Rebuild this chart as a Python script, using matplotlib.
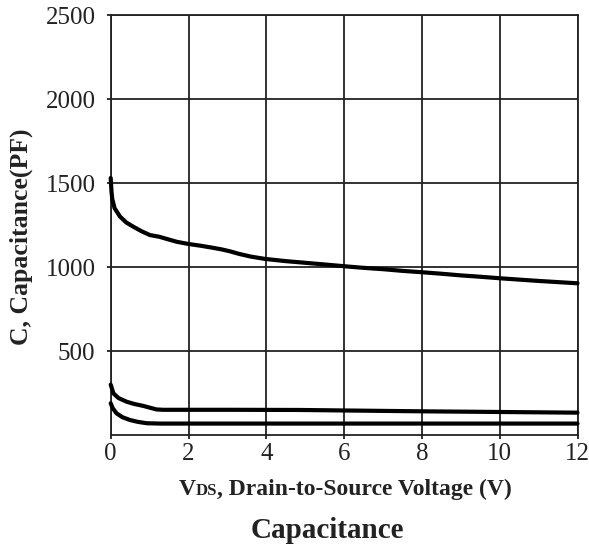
import matplotlib
matplotlib.use("Agg")
import matplotlib.pyplot as plt

# Data
ciss_v = [0.0, 0.01, 0.02, 0.04, 0.1, 0.24, 0.4, 0.58, 0.8, 1.01, 1.25, 1.44, 1.7, 2.0, 2.3, 2.56, 2.85, 3.07, 3.3, 3.6, 3.97, 4.5, 5.0, 5.5, 6.03, 6.5, 7.0, 7.5, 8.05, 8.5, 9.0, 9.5, 10.0, 10.5, 11.0, 11.5, 12.0]
ciss_c = [1530, 1490, 1450, 1405, 1350, 1300, 1265, 1240, 1212, 1190, 1180, 1167, 1150, 1137, 1127, 1117, 1105, 1093, 1078, 1062, 1048, 1035, 1025, 1015, 1004, 995, 987, 977, 968, 960, 950, 942, 933, 925, 917, 910, 903]

coss_v = [0.0, 0.07, 0.2, 0.41, 0.6, 0.84, 1.0, 1.18, 1.35, 2.0, 3.0, 4.87, 6.0, 8.0, 10.0, 12.0]
coss_c = [300, 248, 220, 198, 185, 173, 163, 152, 150, 150, 150, 149, 146, 141, 137, 133]

crss_v = [0.0, 0.05, 0.15, 0.3, 0.5, 0.7, 0.93, 1.27, 2.0, 4.0, 6.0, 8.0, 10.0, 12.0]
crss_c = [189, 160, 129, 106, 89, 78, 70, 68, 68, 68, 68, 68, 68, 68]

x_ticks = [0, 2, 4, 6, 8, 10, 12]
y_ticks = [500, 1000, 1500, 2000, 2500]

plt.rcParams['font.family'] = ['Liberation Serif', 'DejaVu Serif']

fig = plt.figure(figsize=(5.89, 5.46), dpi=100)
ax = fig.add_axes([110.7/589, (546-435)/546, (577.5-110.7)/589, (435-15)/546])

for xs, ys in ((ciss_v, ciss_c), (coss_v, coss_c), (crss_v, crss_c)):
    ax.plot(xs, ys, color='black', lw=3.0, solid_capstyle='round', solid_joinstyle='round',
            clip_on=False, zorder=3)

ax.set_xlim(0, 12)
ax.set_ylim(0, 2500)
ax.set_xticks(x_ticks)
ax.set_yticks(y_ticks)
ax.set_xticklabels([str(t) for t in x_ticks])
ax.set_yticklabels([str(t) for t in y_ticks])
ax.grid(True, color='#222222', lw=1.3)
ax.set_axisbelow(True)
for s in ax.spines.values():
    s.set_color('#222222')
    s.set_linewidth(1.3)
ax.tick_params(axis='both', direction='out', length=3, width=1.3, color='#222222',
               labelsize=18, labelcolor='#222222')
ax.tick_params(axis='x', pad=3)
ax.tick_params(axis='y', pad=8)

# y label
fig.text(21/589, 1 - 237/546, 'C, Capacitance(PF)', rotation=90, fontsize=18.5,
         fontweight='bold', ha='center', va='center', color='#222222')

# x label with small-size DS
fig.canvas.draw()
r = fig.canvas.get_renderer()
y_lab = 1 - 495/546
parts = [('V', 17), ('DS', 12), (', Drain-to-Source Voltage (V)', 17)]
texts = []
for s, fs in parts:
    t = fig.text(0, y_lab, s, fontsize=fs, fontweight='bold', ha='left', va='baseline', color='#222222')
    texts.append(t)
widths = [t.get_window_extent(renderer=r).width for t in texts]
total = sum(widths)
cur = 345 - total/2
for t, w in zip(texts, widths):
    t.set_x(cur/589)
    cur += w

fig.text(327/589, 1 - 538/546, 'Capacitance', fontsize=21, fontweight='bold',
         ha='center', va='baseline', color='#222222')

fig.savefig('out.png', dpi=100)
